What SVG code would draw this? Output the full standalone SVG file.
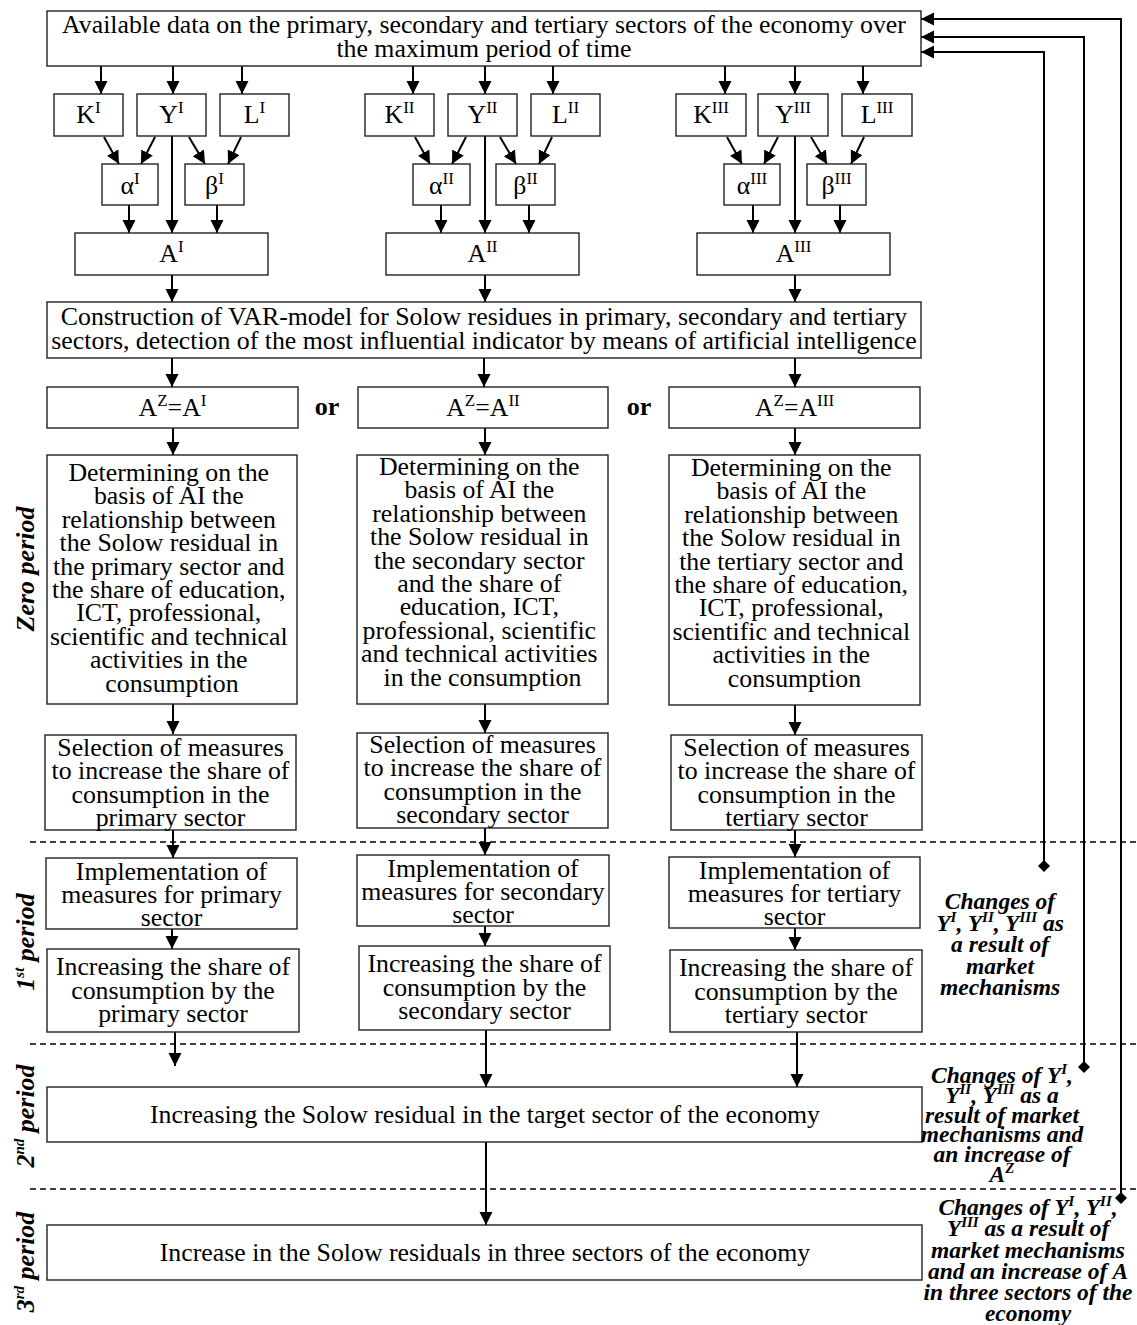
<svg xmlns="http://www.w3.org/2000/svg" width="1137" height="1325" viewBox="0 0 1137 1325">
<defs>
<style>
.box{fill:#fff;stroke:#222;stroke-width:1.4}
.t{font-family:"Liberation Serif","Times New Roman",serif;font-size:25.8px;text-anchor:middle;fill:#000}
.s{font-size:17px}
.bi{font-family:"Liberation Serif","Times New Roman",serif;font-weight:bold;font-style:italic;font-size:23.5px;text-anchor:middle;fill:#000}
.pl{font-size:26px}
.bs{font-size:15px}
.or{font-family:"Liberation Serif","Times New Roman",serif;font-weight:bold;font-size:26px;text-anchor:middle}
.ln{stroke:#000;stroke-width:2;fill:none}
.ar{marker-end:url(#arr)}
.fb{stroke:#000;stroke-width:2;fill:none;marker-end:url(#arr);marker-start:url(#dia)}
.dash{stroke:#000;stroke-width:1.3;stroke-dasharray:6 4;fill:none}
</style>
<marker id="arr" markerUnits="userSpaceOnUse" markerWidth="14" markerHeight="14" refX="13" refY="6.5" orient="auto">
<path d="M0,0 L13,6.5 L0,13 z" fill="#000"/>
</marker>
<marker id="dia" markerUnits="userSpaceOnUse" markerWidth="12" markerHeight="12" refX="6" refY="6" orient="auto">
<path d="M0,6 L6,0 L12,6 L6,12 z" fill="#000"/>
</marker>
</defs>
<rect width="1137" height="1325" fill="#fff"/>

<g id="separators">
<line class="dash" x1="30" y1="842" x2="1137" y2="842"/>
<line class="dash" x1="30" y1="1044" x2="1137" y2="1044"/>
<line class="dash" x1="30" y1="1189" x2="1137" y2="1189"/>
</g>

<g id="connectors">
<line class="ln ar" x1="101" y1="66" x2="101" y2="94"/>
<line class="ln ar" x1="173" y1="66" x2="173" y2="94"/>
<line class="ln ar" x1="242" y1="66" x2="242" y2="94"/>
<line class="ln ar" x1="104" y1="137" x2="119" y2="164"/>
<line class="ln ar" x1="155" y1="137" x2="141" y2="164"/>
<line class="ln ar" x1="189" y1="137" x2="205" y2="164"/>
<line class="ln ar" x1="241" y1="137" x2="228" y2="164"/>
<line class="ln ar" x1="172" y1="136" x2="172" y2="233"/>
<line class="ln ar" x1="129" y1="205" x2="129" y2="233"/>
<line class="ln ar" x1="217" y1="205" x2="217" y2="233"/>
<line class="ln ar" x1="172" y1="275" x2="172" y2="302"/>
<line class="ln ar" x1="413" y1="66" x2="413" y2="94"/>
<line class="ln ar" x1="485" y1="66" x2="485" y2="94"/>
<line class="ln ar" x1="553" y1="66" x2="553" y2="94"/>
<line class="ln ar" x1="415" y1="137" x2="430" y2="164"/>
<line class="ln ar" x1="466" y1="137" x2="452" y2="164"/>
<line class="ln ar" x1="500" y1="137" x2="516" y2="164"/>
<line class="ln ar" x1="552" y1="137" x2="539" y2="164"/>
<line class="ln ar" x1="485" y1="136" x2="485" y2="233"/>
<line class="ln ar" x1="441" y1="205" x2="441" y2="233"/>
<line class="ln ar" x1="529" y1="205" x2="529" y2="233"/>
<line class="ln ar" x1="485" y1="275" x2="485" y2="302"/>
<line class="ln ar" x1="725" y1="66" x2="725" y2="94"/>
<line class="ln ar" x1="795" y1="66" x2="795" y2="94"/>
<line class="ln ar" x1="863" y1="66" x2="863" y2="94"/>
<line class="ln ar" x1="727" y1="137" x2="742" y2="164"/>
<line class="ln ar" x1="778" y1="137" x2="764" y2="164"/>
<line class="ln ar" x1="811" y1="137" x2="827" y2="164"/>
<line class="ln ar" x1="864" y1="137" x2="851" y2="164"/>
<line class="ln ar" x1="795" y1="136" x2="795" y2="233"/>
<line class="ln ar" x1="753" y1="205" x2="753" y2="233"/>
<line class="ln ar" x1="840" y1="205" x2="840" y2="233"/>
<line class="ln ar" x1="795" y1="275" x2="795" y2="302"/>
<line class="ln ar" x1="172" y1="358" x2="172" y2="387"/>
<line class="ln ar" x1="484" y1="358" x2="484" y2="387"/>
<line class="ln ar" x1="795" y1="358" x2="795" y2="387"/>
<line class="ln ar" x1="173" y1="428" x2="173" y2="455"/>
<line class="ln ar" x1="485" y1="428" x2="485" y2="455"/>
<line class="ln ar" x1="795" y1="428" x2="795" y2="455"/>
<line class="ln ar" x1="173" y1="704" x2="173" y2="734"/>
<line class="ln ar" x1="485" y1="704" x2="485" y2="733"/>
<line class="ln ar" x1="795" y1="705" x2="795" y2="735"/>
<line class="ln ar" x1="173" y1="830" x2="173" y2="858"/>
<line class="ln ar" x1="485" y1="828" x2="485" y2="855"/>
<line class="ln ar" x1="795" y1="830" x2="795" y2="857"/>
<line class="ln ar" x1="172" y1="929" x2="172" y2="949"/>
<line class="ln ar" x1="485" y1="926" x2="485" y2="946"/>
<line class="ln ar" x1="795" y1="928" x2="795" y2="950"/>
<line class="ln ar" x1="175" y1="1032" x2="175" y2="1066"/>
<line class="ln ar" x1="486" y1="1030" x2="486" y2="1087"/>
<line class="ln ar" x1="797" y1="1032" x2="797" y2="1087"/>
<line class="ln ar" x1="486" y1="1142" x2="486" y2="1225"/>
<path class="fb" d="M1044,866 V52 H921"/>
<path class="fb" d="M1084,1067 V37 H921"/>
<path class="fb" d="M1121,1198 V19 H921"/>
</g>

<g id="n-data">
<rect class="box" x="47" y="11" width="874" height="55"/>
<text class="t" x="484" y="33">Available data on the primary, secondary and tertiary sectors of the economy over</text>
<text class="t" x="484" y="57">the maximum period of time</text>
</g>

<g id="n-K1"><rect class="box" x="54" y="94" width="69" height="42"/><text class="t" x="88.5" y="123">K<tspan class="s" dy="-10">I</tspan></text></g>
<g id="n-Y1"><rect class="box" x="137" y="94" width="69" height="42"/><text class="t" x="171.5" y="123">Y<tspan class="s" dy="-10">I</tspan></text></g>
<g id="n-L1"><rect class="box" x="220" y="94" width="69" height="42"/><text class="t" x="254.5" y="123">L<tspan class="s" dy="-10">I</tspan></text></g>
<g id="n-a1"><rect class="box" x="102" y="164" width="56" height="41"/><text class="t" x="130" y="194">α<tspan class="s" dy="-10">I</tspan></text></g>
<g id="n-b1"><rect class="box" x="185" y="164" width="59" height="41"/><text class="t" x="214.5" y="194">β<tspan class="s" dy="-10">I</tspan></text></g>
<g id="n-A1"><rect class="box" x="75" y="233" width="193" height="42"/><text class="t" x="171.5" y="262">A<tspan class="s" dy="-10">I</tspan></text></g>

<g id="n-K2"><rect class="box" x="365" y="94" width="69" height="42"/><text class="t" x="399.5" y="123">K<tspan class="s" dy="-10">II</tspan></text></g>
<g id="n-Y2"><rect class="box" x="448" y="94" width="69" height="42"/><text class="t" x="482.5" y="123">Y<tspan class="s" dy="-10">II</tspan></text></g>
<g id="n-L2"><rect class="box" x="531" y="94" width="69" height="42"/><text class="t" x="565.5" y="123">L<tspan class="s" dy="-10">II</tspan></text></g>
<g id="n-a2"><rect class="box" x="413" y="164" width="57" height="41"/><text class="t" x="441.5" y="194">α<tspan class="s" dy="-10">II</tspan></text></g>
<g id="n-b2"><rect class="box" x="496" y="164" width="59" height="41"/><text class="t" x="525.5" y="194">β<tspan class="s" dy="-10">II</tspan></text></g>
<g id="n-A2"><rect class="box" x="386" y="233" width="193" height="42"/><text class="t" x="482.5" y="262">A<tspan class="s" dy="-10">II</tspan></text></g>

<g id="n-K3"><rect class="box" x="676" y="94" width="70" height="42"/><text class="t" x="711" y="123">K<tspan class="s" dy="-10">III</tspan></text></g>
<g id="n-Y3"><rect class="box" x="758" y="94" width="70" height="42"/><text class="t" x="793" y="123">Y<tspan class="s" dy="-10">III</tspan></text></g>
<g id="n-L3"><rect class="box" x="842" y="94" width="70" height="42"/><text class="t" x="877" y="123">L<tspan class="s" dy="-10">III</tspan></text></g>
<g id="n-a3"><rect class="box" x="724" y="164" width="56" height="41"/><text class="t" x="752" y="194">α<tspan class="s" dy="-10">III</tspan></text></g>
<g id="n-b3"><rect class="box" x="807" y="164" width="59" height="41"/><text class="t" x="836.5" y="194">β<tspan class="s" dy="-10">III</tspan></text></g>
<g id="n-A3"><rect class="box" x="697" y="233" width="193" height="42"/><text class="t" x="793.5" y="262">A<tspan class="s" dy="-10">III</tspan></text></g>

<g id="n-var">
<rect class="box" x="47" y="302" width="874" height="56"/>
<text class="t" x="484" y="325">Construction of VAR-model for Solow residues in primary, secondary and tertiary</text>
<text class="t" x="484" y="349">sectors, detection of the most influential indicator by means of artificial intelligence</text>
</g>

<g id="n-AZ1"><rect class="box" x="47" y="387" width="251" height="41"/><text class="t" x="172.5" y="416">A<tspan class="s" dy="-10">Z</tspan><tspan dy="10">=A</tspan><tspan class="s" dy="-10">I</tspan></text></g>
<g id="or1"><text class="or" x="327" y="415">or</text></g>
<g id="n-AZ2"><rect class="box" x="358" y="387" width="250" height="41"/><text class="t" x="483" y="416">A<tspan class="s" dy="-10">Z</tspan><tspan dy="10">=A</tspan><tspan class="s" dy="-10">II</tspan></text></g>
<g id="or2"><text class="or" x="639" y="415">or</text></g>
<g id="n-AZ3"><rect class="box" x="669" y="387" width="251" height="41"/><text class="t" x="794.5" y="416">A<tspan class="s" dy="-10">Z</tspan><tspan dy="10">=A</tspan><tspan class="s" dy="-10">III</tspan></text></g>

<g id="n-det1">
<rect class="box" x="47" y="455" width="250" height="249"/>
<text class="t" x="172">
<tspan x="172" y="481">Determining on the</tspan>
<tspan x="172" y="504.4">basis of AI the</tspan>
<tspan x="172" y="527.8">relationship between</tspan>
<tspan x="172" y="551.2">the Solow residual in</tspan>
<tspan x="172" y="574.6">the primary sector and</tspan>
<tspan x="172" y="598">the share of education,</tspan>
<tspan x="172" y="621.4">ICT, professional,</tspan>
<tspan x="172" y="644.8">scientific and technical</tspan>
<tspan x="172" y="668.2">activities in the</tspan>
<tspan x="172" y="691.6">consumption</tspan>
</text>
</g>
<g id="n-det2">
<rect class="box" x="357" y="455" width="251" height="249"/>
<text class="t" x="482.5">
<tspan x="482.5" y="475">Determining on the</tspan>
<tspan x="482.5" y="498.4">basis of AI the</tspan>
<tspan x="482.5" y="521.8">relationship between</tspan>
<tspan x="482.5" y="545.2">the Solow residual in</tspan>
<tspan x="482.5" y="568.6">the secondary sector</tspan>
<tspan x="482.5" y="592">and the share of</tspan>
<tspan x="482.5" y="615.4">education, ICT,</tspan>
<tspan x="482.5" y="638.8">professional, scientific</tspan>
<tspan x="482.5" y="662.2">and technical activities</tspan>
<tspan x="482.5" y="685.6">in the consumption</tspan>
</text>
</g>
<g id="n-det3">
<rect class="box" x="669" y="455" width="251" height="250"/>
<text class="t" x="794.5">
<tspan x="794.5" y="476">Determining on the</tspan>
<tspan x="794.5" y="499.4">basis of AI the</tspan>
<tspan x="794.5" y="522.8">relationship between</tspan>
<tspan x="794.5" y="546.2">the Solow residual in</tspan>
<tspan x="794.5" y="569.6">the tertiary sector and</tspan>
<tspan x="794.5" y="593">the share of education,</tspan>
<tspan x="794.5" y="616.4">ICT, professional,</tspan>
<tspan x="794.5" y="639.8">scientific and technical</tspan>
<tspan x="794.5" y="663.2">activities in the</tspan>
<tspan x="794.5" y="686.6">consumption</tspan>
</text>
</g>

<g id="n-sel1">
<rect class="box" x="45" y="735" width="251" height="95"/>
<text class="t"><tspan x="170.5" y="756">Selection of measures</tspan><tspan x="170.5" y="779.4">to increase the share of</tspan><tspan x="170.5" y="802.8">consumption in the</tspan><tspan x="170.5" y="826.2">primary sector</tspan></text>
</g>
<g id="n-sel2">
<rect class="box" x="357" y="733" width="251" height="95"/>
<text class="t"><tspan x="482.5" y="753">Selection of measures</tspan><tspan x="482.5" y="776.4">to increase the share of</tspan><tspan x="482.5" y="799.8">consumption in the</tspan><tspan x="482.5" y="823.2">secondary sector</tspan></text>
</g>
<g id="n-sel3">
<rect class="box" x="671" y="735" width="251" height="95"/>
<text class="t"><tspan x="796.5" y="756">Selection of measures</tspan><tspan x="796.5" y="779.4">to increase the share of</tspan><tspan x="796.5" y="802.8">consumption in the</tspan><tspan x="796.5" y="826.2">tertiary sector</tspan></text>
</g>

<g id="n-imp1">
<rect class="box" x="46" y="858" width="251" height="71"/>
<text class="t"><tspan x="171.5" y="880">Implementation of</tspan><tspan x="171.5" y="903">measures for primary</tspan><tspan x="171.5" y="926">sector</tspan></text>
</g>
<g id="n-imp2">
<rect class="box" x="357" y="855" width="252" height="71"/>
<text class="t"><tspan x="483" y="877">Implementation of</tspan><tspan x="483" y="900">measures for secondary</tspan><tspan x="483" y="923">sector</tspan></text>
</g>
<g id="n-imp3">
<rect class="box" x="669" y="857" width="251" height="71"/>
<text class="t"><tspan x="794.5" y="879">Implementation of</tspan><tspan x="794.5" y="902">measures for tertiary</tspan><tspan x="794.5" y="925">sector</tspan></text>
</g>

<g id="n-inc1">
<rect class="box" x="47" y="949" width="252" height="83"/>
<text class="t"><tspan x="173" y="975">Increasing the share of</tspan><tspan x="173" y="998.5">consumption by the</tspan><tspan x="173" y="1022">primary sector</tspan></text>
</g>
<g id="n-inc2">
<rect class="box" x="359" y="946" width="251" height="84"/>
<text class="t"><tspan x="484.5" y="972">Increasing the share of</tspan><tspan x="484.5" y="995.5">consumption by the</tspan><tspan x="484.5" y="1019">secondary sector</tspan></text>
</g>
<g id="n-inc3">
<rect class="box" x="670" y="950" width="252" height="82"/>
<text class="t"><tspan x="796" y="976">Increasing the share of</tspan><tspan x="796" y="999.5">consumption by the</tspan><tspan x="796" y="1023">tertiary sector</tspan></text>
</g>

<g id="n-target">
<rect class="box" x="47" y="1087" width="875" height="55"/>
<text class="t" x="485" y="1123">Increasing the Solow residual in the target sector of the economy</text>
</g>
<g id="n-three">
<rect class="box" x="47" y="1225" width="875" height="55"/>
<text class="t" x="485" y="1261">Increase in the Solow residuals in three sectors of the economy</text>
</g>

<g id="period-labels">
<text class="bi pl" transform="translate(34,569) rotate(-90)">Zero period</text>
<text class="bi pl" transform="translate(34,942) rotate(-90)">1<tspan class="bs" dy="-10">st</tspan><tspan dy="10"> period</tspan></text>
<text class="bi pl" transform="translate(34,1116) rotate(-90)">2<tspan class="bs" dy="-10">nd</tspan><tspan dy="10"> period</tspan></text>
<text class="bi pl" transform="translate(34,1262) rotate(-90)">3<tspan class="bs" dy="-10">rd</tspan><tspan dy="10"> period</tspan></text>
</g>

<g id="note-1">
<text class="bi" x="1000" y="909">Changes of</text>
<text class="bi" x="1000" y="930.5">Y<tspan class="bs" dy="-9">I</tspan><tspan dy="9">, Y</tspan><tspan class="bs" dy="-9">II</tspan><tspan dy="9">, Y</tspan><tspan class="bs" dy="-9">III</tspan><tspan dy="9"> as</tspan></text>
<text class="bi" x="1000" y="952">a result of</text>
<text class="bi" x="1000" y="973.5">market</text>
<text class="bi" x="1000" y="995">mechanisms</text>
</g>
<g id="note-2">
<text class="bi" x="1002" y="1083">Changes of Y<tspan class="bs" dy="-9">I</tspan><tspan dy="9">,</tspan></text>
<text class="bi" x="1002" y="1103">Y<tspan class="bs" dy="-9">II</tspan><tspan dy="9">, Y</tspan><tspan class="bs" dy="-9">III</tspan><tspan dy="9"> as a</tspan></text>
<text class="bi" x="1002" y="1123">result of market</text>
<text class="bi" x="1002" y="1142">mechanisms and</text>
<text class="bi" x="1002" y="1162">an increase of</text>
<text class="bi" x="1002" y="1182">A<tspan class="bs" dy="-9">Z</tspan></text>
</g>
<g id="note-3">
<text class="bi" x="1028" y="1215">Changes of Y<tspan class="bs" dy="-9">I</tspan><tspan dy="9">, Y</tspan><tspan class="bs" dy="-9">II</tspan><tspan dy="9">,</tspan></text>
<text class="bi" x="1028" y="1236">Y<tspan class="bs" dy="-9">III</tspan><tspan dy="9"> as a result of</tspan></text>
<text class="bi" x="1028" y="1257.5">market mechanisms</text>
<text class="bi" x="1028" y="1279">and an increase of A</text>
<text class="bi" x="1028" y="1300">in three sectors of the</text>
<text class="bi" x="1028" y="1321">economy</text>
</g>
</svg>
